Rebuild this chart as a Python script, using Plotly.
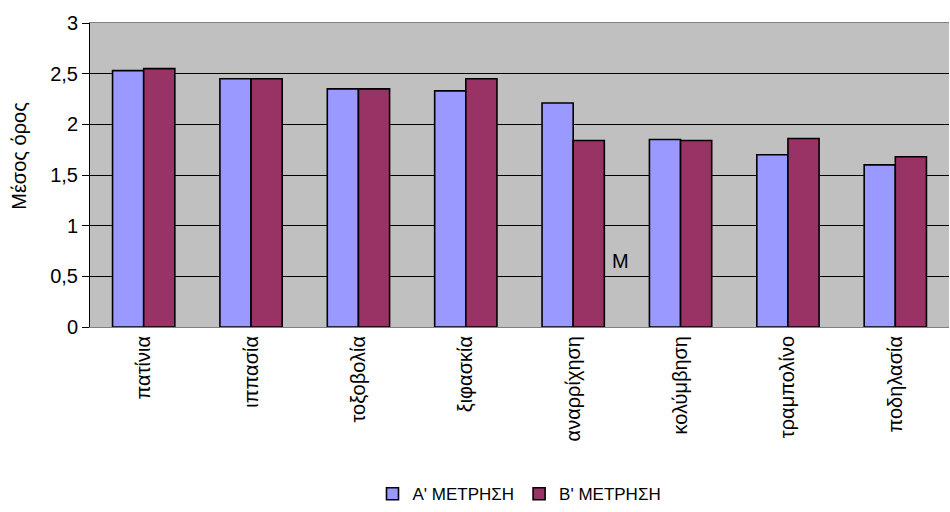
import plotly.graph_objects as go

sports = ["πατίνια", "ιππασία", "τοξοβολία", "ξιφασκία", "αναρρίχηση",
          "κολύμβηση", "τραμπολίνο", "ποδηλασία"]
measure_a = [2.53, 2.45, 2.35, 2.33, 2.21, 1.85, 1.70, 1.60]
measure_b = [2.55, 2.45, 2.35, 2.45, 1.84, 1.84, 1.86, 1.68]
y_ticks = [0, 0.5, 1, 1.5, 2, 2.5, 3]

FONT = "Liberation Sans, Arial, sans-serif"

fig = go.Figure()
fig.add_trace(go.Bar(
    x=sports, y=measure_a, name="Α' ΜΕΤΡΗΣΗ",
    marker=dict(color="#9999FF", line=dict(color="#000000", width=1.6)),
))
fig.add_trace(go.Bar(
    x=sports, y=measure_b, name="Β' ΜΕΤΡΗΣΗ",
    marker=dict(color="#993366", line=dict(color="#000000", width=1.6)),
))

# stray label inside the plot area
fig.add_annotation(
    x="αναρρίχηση", y=0.65, xref="x", yref="y", text="Μ",
    showarrow=False, xshift=47, font=dict(family=FONT, size=20, color="#000000"),
)

# y axis title, placed as a rotated annotation
fig.add_annotation(
    x=-0.083, y=0.5625, xref="paper", yref="paper", text="Μέσος όρος",
    textangle=-90, showarrow=False, xanchor="center", yanchor="middle",
    font=dict(family=FONT, size=20, color="#000000"),
)

fig.update_layout(
    width=950, height=512,
    margin=dict(l=90, r=1, t=23, b=185, autoexpand=False),
    paper_bgcolor="#FFFFFF",
    plot_bgcolor="#C0C0C0",
    separators=",.",
    barmode="group",
    bargap=0.42,
    bargroupgap=0,
    font=dict(family=FONT, size=18, color="#000000"),
    showlegend=True,
    legend=dict(
        orientation="h", x=0.5, xanchor="center", y=-0.55, yanchor="middle",
        font=dict(family=FONT, size=17), itemwidth=30,
    ),
    xaxis=dict(
        tickangle=-90, showgrid=False, ticks="", automargin=False,
        showline=True, linecolor="#808080", linewidth=1,
        mirror=True, tickfont=dict(size=20),
    ),
    yaxis=dict(
        range=[0, 3], tickvals=y_ticks, tickformat=".1~f", automargin=False,
        showgrid=True, gridcolor="#000000", gridwidth=1,
        showline=True, linecolor="#000000", linewidth=1,
        ticks="outside", ticklen=7, tickcolor="#000000",
        tickfont=dict(size=20), zeroline=False,
    ),
)

fig.write_html("out.html")
